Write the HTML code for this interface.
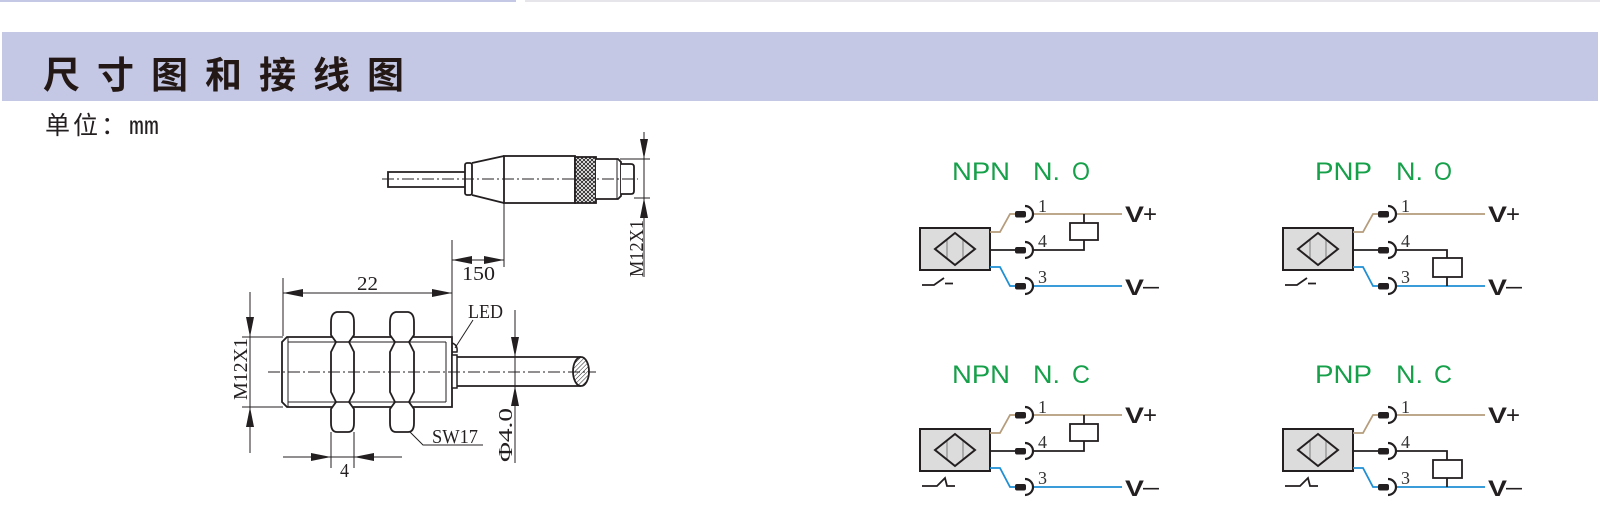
<!DOCTYPE html>
<html><head><meta charset="utf-8">
<style>
html,body{margin:0;padding:0;background:#fff;}
body{width:1600px;height:528px;overflow:hidden;}
svg{display:block;}
.dim{font-family:"Liberation Serif",serif;font-size:20px;fill:#231f20;}
.cjk{font-family:"Liberation Sans","Noto Sans CJK SC",sans-serif;}
.gt{font-family:"Liberation Sans",sans-serif;font-size:25px;fill:#16a04a;}
.num{font-family:"Liberation Serif",serif;font-size:18px;fill:#333;}
.vb{font-family:"Liberation Sans",sans-serif;font-size:22px;font-weight:bold;fill:#231f20;}
.vs{font-family:"Liberation Sans",sans-serif;font-size:24px;fill:#231f20;}
</style></head><body>
<svg width="1600" height="528" viewBox="0 0 1600 528" xmlns="http://www.w3.org/2000/svg">
<defs>
<pattern id="knurl" width="4" height="4" patternUnits="userSpaceOnUse">
<rect width="4" height="4" fill="#fff"/>
<path d="M0,0 L4,4 M4,0 L0,4" stroke="#231f20" stroke-width="0.9"/>
</pattern>
<pattern id="hatch" width="3" height="3" patternUnits="userSpaceOnUse" patternTransform="rotate(45)">
<rect width="3" height="3" fill="#fff"/>
<line x1="0" y1="0" x2="0" y2="3" stroke="#231f20" stroke-width="1"/>
</pattern>
</defs>

<!-- top strips and header band -->
<rect x="0" y="0" width="516" height="2" fill="#c5c8e4"/>
<rect x="525" y="0" width="1075" height="2" fill="#e6e6ea"/>
<rect x="2" y="32" width="1596" height="69" fill="#c5c8e4"/>
<text class="cjk" x="43 97 151 205 259 313 367" y="88" style="font-size:37px;font-weight:700;fill:#231815;">尺寸图和接线图</text>
<text class="cjk" x="45 73 101" y="134" style="font-size:25px;fill:#231f20;">单位：</text>
<text x="129" y="134" textLength="30" lengthAdjust="spacingAndGlyphs" style="font-family:'Liberation Mono',monospace;font-size:25px;fill:#231f20;">mm</text>

<!-- ===== top cable connector assembly ===== -->
<g stroke="#231f20" fill="none" stroke-width="1.8">
<path d="M466,172 H388 V187 H466"/>
<rect x="465" y="163" width="7" height="32" rx="2" fill="#fff"/>
<path d="M472,163 L504,156 M472,195 L504,203"/>
<rect x="504" y="156" width="71" height="47" fill="#fff"/>
<rect x="575" y="157" width="21" height="46" fill="url(#knurl)"/>
<path d="M596,159 H618 L621,162 V196 L618,199 H596" fill="#fff"/>
<path d="M617,159 V199" stroke-width="1"/>
<path d="M621,164 H631 Q634,164 634,167 V191 Q634,194 631,194 H621" fill="#fff"/>
</g>
<path d="M382,179 H638" stroke="#231f20" stroke-width="1" stroke-dasharray="12 3 2 3" fill="none"/>
<g stroke="#231f20" stroke-width="1" fill="none">
<path d="M644,132 V277 M620,159 H650 M634,198 H650"/>
<path d="M504,203 V267 M452,240 V337 M452,260 H504"/>
</g>
<g fill="#231f20">
<polygon points="644,159 640,139 648,139"/>
<polygon points="644,198 640,218 648,218"/>
<polygon points="452,260 472,256 472,264"/>
<polygon points="504,260 484,256 484,264"/>
</g>
<text class="dim" transform="translate(643,277) rotate(-90)" textLength="57" lengthAdjust="spacingAndGlyphs">M12X1</text>
<text class="dim" x="462" y="280" textLength="33" lengthAdjust="spacingAndGlyphs">150</text>

<!-- ===== main sensor ===== -->
<g stroke="#231f20" stroke-width="1" fill="none">
<path d="M283,293 H452 M283,278 V336"/>
<path d="M250,292 V453 M242,337 H283 M242,407 H283"/>
<path d="M283,457 H402 M331,432 V468 M354,432 V468"/>
<path d="M515,310 V463"/>
<path d="M455,348 L473,320"/>
<path d="M398,420 L423,445 H483"/>
</g>
<g fill="#231f20">
<polygon points="283,293 303,289 303,297"/>
<polygon points="452,293 432,289 432,297"/>
<polygon points="250,337 246,317 254,317"/>
<polygon points="250,407 246,427 254,427"/>
<polygon points="331,457 311,453 311,461"/>
<polygon points="354,457 374,453 374,461"/>
<polygon points="515,357 511,337 519,337"/>
<polygon points="515,386 511,406 519,406"/>
</g>
<text class="dim" x="357" y="290" textLength="21" lengthAdjust="spacingAndGlyphs">22</text>
<text class="dim" transform="translate(247,400) rotate(-90)" textLength="62" lengthAdjust="spacingAndGlyphs">M12X1</text>
<text class="dim" transform="translate(512,462) rotate(-90)" textLength="54" lengthAdjust="spacingAndGlyphs">Φ4.0</text>
<text class="dim" x="340" y="477" textLength="9" lengthAdjust="spacingAndGlyphs">4</text>
<text class="dim" x="468" y="318" textLength="35" lengthAdjust="spacingAndGlyphs">LED</text>
<text class="dim" x="432" y="443" textLength="46" lengthAdjust="spacingAndGlyphs">SW17</text>

<g stroke="#231f20" fill="none">
<path d="M287,337 H452 V407 H287 L282,402 V342 Z" fill="#fff" stroke-width="1.8"/>
<path d="M288,337 V407 M288,342 H446 M288,402 H446 M446,342 V402" stroke-width="1"/>
<path d="M337,312 H348 Q354,313 354,322 V335 L349,342 L354,352 V392 L349,402 L354,409 V423 Q354,432 348,432 H337 Q331,432 331,423 V409 L336,402 L331,392 V352 L336,342 L331,335 V322 Q331,313 337,312 Z" fill="#fff" stroke-width="1.8"/>
<path d="M336,342 H349 M336,402 H349" stroke-width="1.5"/>
<path d="M396,312 H408 Q414,313 414,322 V335 L409,342 L414,352 V392 L409,402 L414,409 V423 Q414,432 408,432 H396 Q390,432 390,423 V409 L395,402 L390,392 V352 L395,342 L390,335 V322 Q390,313 396,312 Z" fill="#fff" stroke-width="1.8"/>
<path d="M395,342 H409 M395,402 H409" stroke-width="1.5"/>
<rect x="452" y="355" width="5" height="33" stroke-width="1.5" fill="#fff"/>
<path d="M452,343 Q458,345 457,352 L452,352" stroke-width="1.5"/>
<path d="M457,357 H581 M457,386 H581" stroke-width="1.8"/>
<ellipse cx="581" cy="371.5" rx="8" ry="14.5" fill="url(#hatch)" stroke-width="1.8"/>
</g>
<path d="M268,372 H596" stroke="#231f20" stroke-width="1" stroke-dasharray="12 3 2 3" fill="none"/>

<!-- ===== wiring diagrams ===== -->
<g>
<text class="gt" x="952" y="180" textLength="58" lengthAdjust="spacingAndGlyphs">NPN</text>
<text class="gt" x="1033" y="180" textLength="27" lengthAdjust="spacingAndGlyphs">N.</text>
<text class="gt" x="1072" y="180" textLength="18" lengthAdjust="spacingAndGlyphs">O</text>
</g>
<g>
<text class="gt" x="1315" y="180" textLength="57" lengthAdjust="spacingAndGlyphs">PNP</text>
<text class="gt" x="1396" y="180" textLength="27" lengthAdjust="spacingAndGlyphs">N.</text>
<text class="gt" x="1434" y="180" textLength="18" lengthAdjust="spacingAndGlyphs">O</text>
</g>
<g>
<text class="gt" x="952" y="383" textLength="58" lengthAdjust="spacingAndGlyphs">NPN</text>
<text class="gt" x="1033" y="383" textLength="27" lengthAdjust="spacingAndGlyphs">N.</text>
<text class="gt" x="1072" y="383" textLength="18" lengthAdjust="spacingAndGlyphs">C</text>
</g>
<g>
<text class="gt" x="1315" y="383" textLength="57" lengthAdjust="spacingAndGlyphs">PNP</text>
<text class="gt" x="1396" y="383" textLength="27" lengthAdjust="spacingAndGlyphs">N.</text>
<text class="gt" x="1434" y="383" textLength="18" lengthAdjust="spacingAndGlyphs">C</text>
</g>

<g id="blkA">
<rect x="920" y="228" width="70" height="42" fill="#dcdcdc" stroke="#231f20" stroke-width="2"/>
<path d="M947,239.5 V258.5 M963,239.5 V258.5" stroke="#8a8a8a" stroke-width="1.2"/>
<polygon points="935,249 955,233 975,249 955,265" fill="none" stroke="#231f20" stroke-width="2"/>
<path d="M990,232 H1000 L1010,214 H1017 M1032,214 H1122" stroke="#b59c7c" stroke-width="1.8" fill="none"/>
<path d="M990,250 H1017" stroke="#231f20" stroke-width="1.8" fill="none"/>
<path d="M990,267 H1000 L1010,286 H1017 M1032,286 H1122" stroke="#1f8fd4" stroke-width="1.8" fill="none"/>
<g fill="#231f20">
<rect x="1015" y="211" width="11" height="6.5" rx="2"/>
<rect x="1015" y="247" width="11" height="6.5" rx="2"/>
<rect x="1015" y="283" width="11" height="6.5" rx="2"/>
</g>
<path d="M1025,206 A8,8 0 0 1 1025,222 M1025,242 A8,8 0 0 1 1025,258 M1025,278 A8,8 0 0 1 1025,294" stroke="#231f20" stroke-width="2.2" fill="none"/>
<text class="num" x="1038" y="212">1</text>
<text class="num" x="1038" y="247">4</text>
<text class="num" x="1038" y="283">3</text>
<text class="vb" x="1125" y="222" textLength="19" lengthAdjust="spacingAndGlyphs">V</text>
<text class="vs" x="1143" y="222">+</text>
<text class="vb" x="1125" y="295" textLength="19" lengthAdjust="spacingAndGlyphs">V</text>
<text class="vs" x="1143" y="294" textLength="16" lengthAdjust="spacingAndGlyphs">–</text>
</g>

<path d="M1032,250 H1084 V240 M1084,223 V214" stroke="#231f20" stroke-width="1.8" fill="none"/>
<rect x="1070" y="223" width="28" height="17" fill="#fff" stroke="#231f20" stroke-width="1.8"/>
<path d="M922,285 H934 L944,278 M945,283.5 H953" stroke="#231f20" stroke-width="1.8" fill="none"/>

<use href="#blkA" transform="translate(363,0)"/>
<path d="M1395,250 H1447 V258 M1447,277 V286" stroke="#231f20" stroke-width="1.8" fill="none"/>
<rect x="1433" y="258" width="29" height="19" fill="#fff" stroke="#231f20" stroke-width="1.8"/>
<path d="M1285,285 H1297 L1307,278 M1308,283.5 H1316" stroke="#231f20" stroke-width="1.8" fill="none"/>

<use href="#blkA" transform="translate(0,201)"/>
<path d="M1032,451 H1084 V441 M1084,424 V415" stroke="#231f20" stroke-width="1.8" fill="none"/>
<rect x="1070" y="424" width="28" height="17" fill="#fff" stroke="#231f20" stroke-width="1.8"/>
<path d="M922,486 H937 L945,478 L947,486 H955" stroke="#231f20" stroke-width="1.8" fill="none"/>

<use href="#blkA" transform="translate(363,201)"/>
<path d="M1395,451 H1447 V460 M1447,478 V487" stroke="#231f20" stroke-width="1.8" fill="none"/>
<rect x="1433" y="460" width="29" height="18" fill="#fff" stroke="#231f20" stroke-width="1.8"/>
<path d="M1285,486 H1300 L1308,478 L1310,486 H1318" stroke="#231f20" stroke-width="1.8" fill="none"/>
</svg>
</body></html>
